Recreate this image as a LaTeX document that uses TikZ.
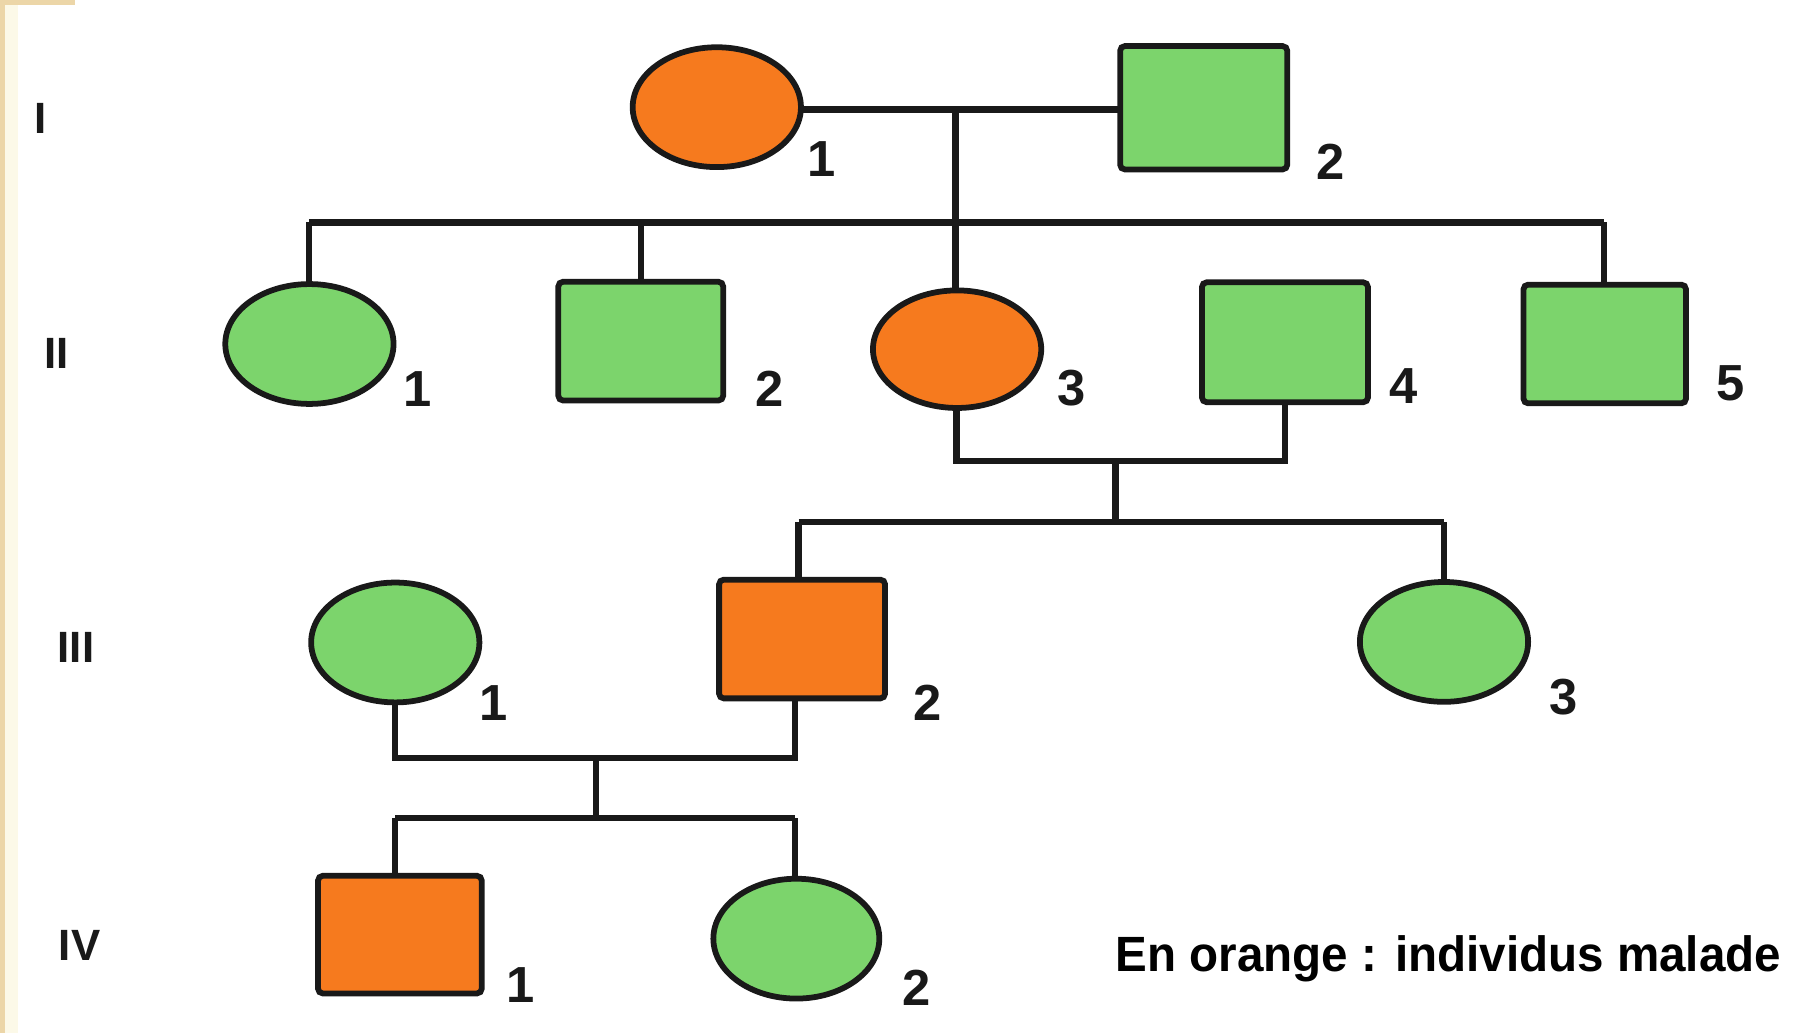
\documentclass[tikz,border=0pt]{standalone}
\usepackage{fontspec}
\setmainfont{Liberation Sans}
\usetikzlibrary{shapes.geometric,calc}
\definecolor{sick}{RGB}{246,122,30}
\definecolor{healthy}{RGB}{124,212,108}
\definecolor{ink}{RGB}{25,25,25}
\definecolor{beige}{RGB}{236,214,168}
\definecolor{cream}{RGB}{252,249,232}
\begin{document}
\begin{tikzpicture}[x=1pt,y=-1pt,
  female/.style={ellipse,draw=ink,line width=5pt,inner sep=0pt,minimum width=146pt,minimum height=104pt},
  male/.style={rectangle,rounded corners=4pt,draw=ink,line width=5pt,inner sep=0pt,minimum width=143pt,minimum height=103pt},
  ill/.style={fill=sick},
  ok/.style={fill=healthy},
  link/.style={draw=ink,line width=5.5pt},
  num/.style={font=\fontsize{44}{44}\selectfont\bfseries,text=ink,inner sep=0pt},
  gen/.style={font=\fontsize{38}{38}\selectfont\bfseries,text=ink,inner sep=0pt},
  caption/.style={font=\fontsize{43}{43}\selectfont\bfseries,text=black,inner sep=0pt,anchor=base west}]
\useasboundingbox (0,0) rectangle (1568,896);
\fill[white] (0,0) rectangle (1568,896);
\fill[cream] (0,0) rectangle (16,896);
\fill[beige] (0,0) rectangle (4,896);
\fill[beige] (0,0) rectangle (65,4);

% generation labels
\node[gen] (gI) at (35,103) {I};
\node[gen] (gII) at (49,307) {II};
\node[gen] (gIII) at (66,562) {III};
\node[gen] (gIV) at (69,820) {IV};

% coordinates for family lines
\coordinate (m1) at (829,95);
\coordinate (s1) at (829,193);
\coordinate (m2) at (968,400);
\coordinate (s2) at (968,453);
\coordinate (m3) at (517,658);
\coordinate (s3) at (517,710);

% connectors (drawn first, below shapes)
\draw[link] (622,95) -- (1044,95);
\draw[link] (m1) -- (s1);
\draw[link] (268,193) -- (1392,193);
\draw[link] (268,193) -- (268,298);
\draw[link] (556,193) -- (556,296);
\draw[link] (s1) -- (829,303);
\draw[link] (1392,193) -- (1392,298);
\draw[link] (830,303) |- (m2) -| (1115,297);
\draw[link] (m2) -- (s2);
\draw[link] (693,453) -- (1253,453);
\draw[link] (693,453) -- (693,554);
\draw[link] (1253,453) -- (1253,557);
\draw[link] (343,557) |- (m3) -| (690,554);
\draw[link] (m3) -- (s3);
\draw[link] (343,710) -- (690,710);
\draw[link] (343,710) -- (343,811);
\draw[link] (690,710) -- (690,814);

% individuals
\node[female,ill] (I1) at (622,93) {};
\node[male,ok,minimum width=145pt,minimum height=107pt] (I2) at (1044.5,93.5) {};
\node[female,ok] (II1) at (268.5,298.5) {};
\node[male,ok] (II2) at (556,296) {};
\node[female,ill,minimum height=102pt] (II3) at (830.5,303) {};
\node[male,ok,minimum width=144pt,minimum height=104pt] (II4) at (1115,297) {};
\node[male,ok,minimum width=141pt] (II5) at (1392.5,298.5) {};
\node[female,ok] (III1) at (343,557.5) {};
\node[male,ill,minimum width=144pt] (III2) at (696,554.5) {};
\node[female,ok] (III3) at (1253,557) {};
\node[male,ill,minimum width=142pt,minimum height=102pt] (IV1) at (347,811) {};
\node[female,ok,minimum width=144pt] (IV2) at (691,814.5) {};

% numbers
\node[num] (nI1) at (713,138) {1};
\node[num] (nI2) at (1155,140) {2};
\node[num] (nII1) at (362,338) {1};
\node[num] (nII2) at (668,337) {2};
\node[num] (nII3) at (930,337) {3};
\node[num] (nII4) at (1218,335) {4};
\node[num] (nII5) at (1502,333) {5};
\node[num] (nIII1) at (428,610) {1};
\node[num] (nIII2) at (805,610) {2};
\node[num] (nIII3) at (1357,605) {3};
\node[num] (nIV1) at (452,855) {1};
\node[num] (nIV2) at (795,857) {2};

\node[caption] (cap) at (968,843) {\scalebox{0.96}[1]{En orange : individus malade}};
\end{tikzpicture}
\end{document}
